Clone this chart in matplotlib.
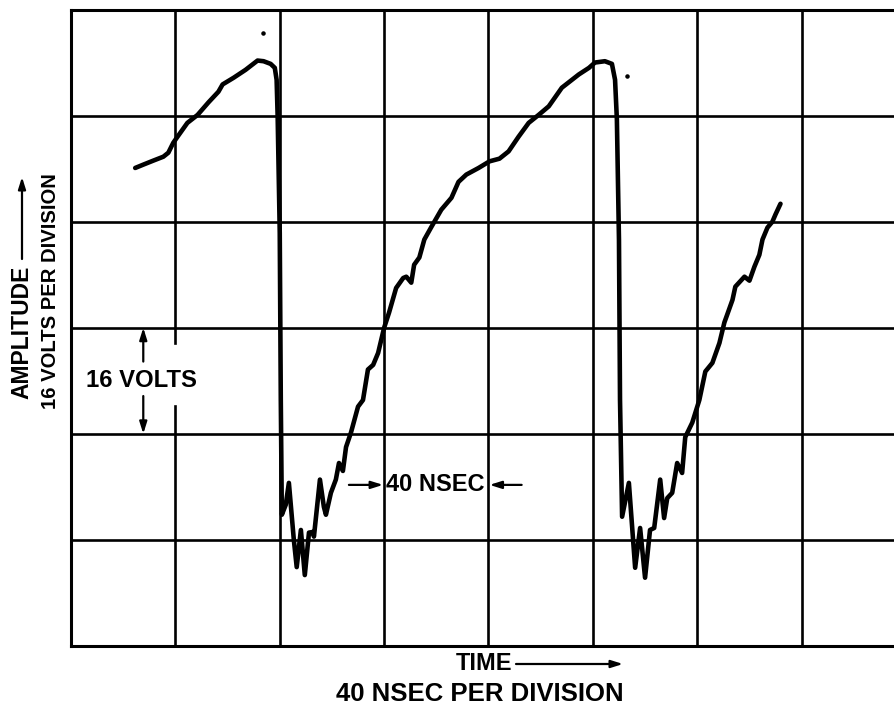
import matplotlib
matplotlib.use("Agg")
import matplotlib.pyplot as plt
from matplotlib import font_manager

# Oscilloscope trace: time in ns, amplitude in volts
trace_ns = [24.6, 27.7, 31.5, 35.4, 37.3, 39.2, 40.8, 44.6, 48.5, 52.7, 56.5, 58.1,
            62.3, 66.9, 71.5, 73.8, 76.5, 78.1, 78.8, 79.2, 80.0, 80.4, 80.8,
            82.3, 83.5, 85.4, 86.5, 88.1, 89.6, 91.2, 92.7, 93.1, 95.4, 96.9, 97.7,
            99.6, 101.5, 102.7, 104.2,
            105.4, 107.3, 110.0, 111.9, 113.8, 115.8, 117.7, 120.0, 121.9, 124.6,
            127.3, 128.5, 130.4, 131.5, 133.5, 135.4, 138.1, 141.9, 145.8, 148.5,
            151.5, 156.2, 160.4, 164.2, 167.7, 171.5, 175.4, 179.2, 183.1, 188.1,
            194.6, 198.5, 200.8, 204.6, 207.3, 208.5, 209.2, 210.0, 210.4, 211.2,
            213.8, 216.2, 218.1, 220.0, 221.9, 223.5, 225.8, 227.3, 228.5, 230.4,
            232.3, 234.2, 235.4, 238.1, 240.8, 243.1, 245.8, 248.5, 250.4, 251.5,
            253.5, 254.6, 258.1, 260.0, 261.9, 263.8, 265.0, 266.9, 268.8, 270.0,
            271.9]
trace_volts = [72.1, 72.6, 73.2, 73.8, 74.4, 75.9, 76.8, 78.9, 80.1, 82.0, 83.6, 84.7,
               85.7, 86.9, 88.3, 88.2, 87.8, 87.2, 85.4, 79.8, 62.3, 37.1, 19.8,
               21.3, 24.6, 16.0, 11.9, 17.5, 10.7, 17.1, 17.2, 16.5, 25.1, 21.0, 19.8,
               23.1, 25.1, 27.6, 26.4,
               30.0, 32.2, 36.1, 37.1, 41.7, 42.4, 44.2, 48.0, 50.3, 54.0,
               55.5, 55.7, 54.8, 57.5, 58.6, 61.3, 63.2, 65.8, 67.6, 70.0,
               71.1, 72.1, 73.1, 73.5, 74.6, 76.8, 78.9, 80.1, 81.4, 84.2,
               86.2, 87.2, 88.0, 88.2, 87.8, 85.4, 79.4, 61.3, 37.1, 19.5,
               24.6, 11.8, 17.8, 10.3, 17.5, 17.8, 25.1, 19.3, 22.3, 23.1,
               27.6, 26.1, 31.5, 33.7, 37.1, 41.4, 42.7, 45.7, 48.8, 50.0,
               52.2, 54.2, 55.7, 55.1, 57.2, 59.0, 61.3, 63.1, 64.0, 65.1,
               66.7]

# stray dots on the screen
speck_ns = [73.5, 213.1]
speck_volts = [92.4, 86.0]

NS_PER_DIV = 40
VOLTS_PER_DIV = 16
N_COLS = 8
N_ROWS = 6

# where the scale markers sit
volts_marker_ns = 27.7
volts_label_gap = (36.2, 45.7)   # break in the 40 ns line behind "16 VOLTS"
nsec_marker_volts = 24.3


def pick_font(names):
    have = {f.name for f in font_manager.fontManager.ttflist}
    for name in names:
        if name in have:
            return name
    return "DejaVu Sans"


def main():
    font = pick_font(["Liberation Sans", "Arial", "DejaVu Sans"])

    fig = plt.figure(figsize=(8.95, 7.11), dpi=100)
    ax = fig.add_axes([71 / 895, 65 / 711, 835 / 895, 636.5 / 711])
    t_max = N_COLS * NS_PER_DIV
    v_max = N_ROWS * VOLTS_PER_DIV
    ax.set_xlim(0, t_max)
    ax.set_ylim(0, v_max)
    ax.set_xticks([])
    ax.set_yticks([])
    for sp in ax.spines.values():
        sp.set_linewidth(2.2)

    # graticule
    grid_kw = dict(color="black", lw=1.9, zorder=1)
    for i in range(1, N_COLS):
        t = i * NS_PER_DIV
        if t == NS_PER_DIV:
            lo, hi = volts_label_gap
            ax.axvline(t, ymin=0, ymax=lo / v_max, **grid_kw)
            ax.axvline(t, ymin=hi / v_max, ymax=1, **grid_kw)
        else:
            ax.axvline(t, **grid_kw)
    for j in range(1, N_ROWS):
        ax.axhline(j * VOLTS_PER_DIV, **grid_kw)

    ax.plot(trace_ns, trace_volts, color="black", lw=3.3,
            solid_joinstyle="round", solid_capstyle="round", zorder=3)
    ax.scatter(speck_ns, speck_volts, s=5, color="black", zorder=3)

    # 16 volt marker
    arrow = dict(arrowstyle="-|>,head_length=0.7,head_width=0.22", color="black", lw=1.6,
                 shrinkA=0, shrinkB=0)
    ax.text(volts_marker_ns - 0.6, 2.5 * VOLTS_PER_DIV, "16 VOLTS", ha="center", va="center",
            family=font, fontweight="bold", fontsize=17.2, zorder=4)
    ax.annotate("", xy=(volts_marker_ns, 3 * VOLTS_PER_DIV), xytext=(volts_marker_ns, 42.9),
                arrowprops=arrow)
    ax.annotate("", xy=(volts_marker_ns, 2 * VOLTS_PER_DIV), xytext=(volts_marker_ns, 37.7),
                arrowprops=arrow)

    # 40 ns marker
    ax.text(3.5 * NS_PER_DIV - 0.5, nsec_marker_volts, "40 NSEC", ha="center", va="center",
            family=font, fontweight="bold", fontsize=17, zorder=4)
    ax.annotate("", xy=(3 * NS_PER_DIV - 0.4, nsec_marker_volts), xytext=(106.5, nsec_marker_volts),
                arrowprops=arrow)
    ax.annotate("", xy=(4 * NS_PER_DIV + 0.4, nsec_marker_volts), xytext=(172.7, nsec_marker_volts),
                arrowprops=arrow)

    # axis captions
    fig.text(22 / 895, 1 - 332 / 711, "AMPLITUDE", rotation=90, ha="center", va="center",
             family=font, fontweight="bold", fontsize=16.5)
    ax.annotate("", xy=(22 / 895, 1 - 177 / 711), xytext=(22 / 895, 1 - 259 / 711),
                xycoords="figure fraction", arrowprops=arrow)
    fig.text(51 / 895, 1 - 291 / 711, "16 VOLTS PER DIVISION", rotation=90, ha="center",
             va="center", family=font, fontweight="bold", fontsize=14.6)

    fig.text(484 / 895, 1 - 664 / 711, "TIME", ha="center", va="center",
             family=font, fontweight="bold", fontsize=17)
    ax.annotate("", xy=(623 / 895, 1 - 664 / 711), xytext=(516 / 895, 1 - 664 / 711),
                xycoords="figure fraction", arrowprops=arrow)
    fig.text(480 / 895, 1 - 694 / 711, "40 NSEC PER DIVISION", ha="center", va="center",
             family=font, fontweight="bold", fontsize=18.5)

    fig.savefig("out.png", dpi=100)


if __name__ == "__main__":
    main()
